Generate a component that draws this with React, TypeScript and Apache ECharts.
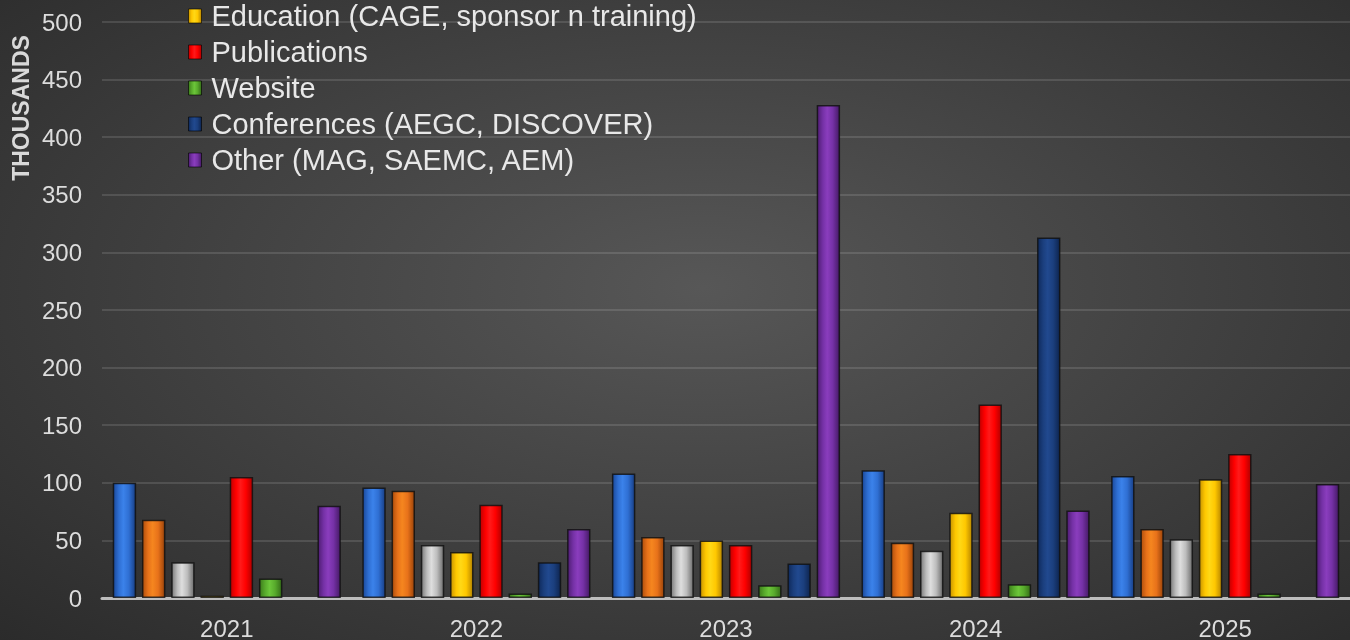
import React, { useEffect, useRef } from "react";
import * as echarts from "echarts";

const years = ["2021", "2022", "2023", "2024", "2025"];
const seriesNames = [
  "Series 1",
  "Series 2",
  "Series 3",
  "Education (CAGE, sponsor n training)",
  "Publications",
  "Website",
  "Conferences (AEGC, DISCOVER)",
  "Other (MAG, SAEMC, AEM)",
];
const legendNames = seriesNames.slice(3);
const blueVals = [100, 96, 108, 111, 106];
const orangeVals = [68, 93, 53, 48, 60];
const grayVals = [31, 46, 46, 41, 51];
const yellowVals = [2, 40, 50, 74, 103];
const redVals = [105, 81, 46, 168, 125];
const greenVals = [17, 4, 11, 12, 4];
const navyVals = [null, 31, 30, 313, null];
const purpleVals = [80, 60, 428, 76, 99];
const allVals = [blueVals, orangeVals, grayVals, yellowVals, redVals, greenVals, navyVals, purpleVals];

const palette = [
  ["#1b4a9c", "#3b82ea", "#2f6fd3", "#183f86"],
  ["#b04f0c", "#f5861f", "#e8721a", "#9c440a"],
  ["#7c7c7c", "#dedede", "#bdbdbd", "#6e6e6e"],
  ["#c99400", "#ffd816", "#ffc800", "#b88600"],
  ["#c00000", "#ff1a1a", "#ff0000", "#b00000"],
  ["#3d7d1c", "#6cc63a", "#58ab2c", "#356e18"],
  ["#0f2a5c", "#21498f", "#1b3f7e", "#0e2550"],
  ["#4f1d73", "#8a3dbd", "#7531a6", "#461a66"],
];

function grad(c: string[]) {
  return new echarts.graphic.LinearGradient(0, 0, 1, 0, [
    { offset: 0, color: c[0] },
    { offset: 0.25, color: c[2] },
    { offset: 0.45, color: c[1] },
    { offset: 0.7, color: c[2] },
    { offset: 1, color: c[3] },
  ]);
}

export default function App() {
  const ref = useRef<HTMLDivElement>(null);
  useEffect(() => {
    if (!ref.current) return;
    const chart = echarts.init(ref.current, null, { renderer: "svg" });
    chart.setOption({
      animation: false,
      backgroundColor: "transparent",
      grid: { left: 102, right: 0, top: 22, bottom: 41, containLabel: false },
      legend: {
        data: legendNames,
        orient: "vertical",
        left: 188,
        top: 0,
        padding: 0,
        itemWidth: 13,
        itemHeight: 14,
        itemGap: 4,
        icon: "rect",
        textStyle: {
          color: "#e8e8e8",
          fontSize: 29,
          lineHeight: 32,
          fontFamily: "Liberation Sans, Arial, sans-serif",
          padding: [0, 0, 0, 5],
        },
        itemStyle: { borderColor: "rgba(0,0,0,0.6)", borderWidth: 1 },
      },
      graphic: [
        {
          type: "text",
          x: 21,
          y: 108,
          rotation: Math.PI / 2,
          style: {
            text: "THOUSANDS",
            fill: "#d9d9d9",
            font: "bold 23px Liberation Sans, Arial, sans-serif",
            textAlign: "center",
            textVerticalAlign: "middle",
          },
        },
      ],
      xAxis: {
        type: "category",
        data: years,
        axisLine: { show: true, lineStyle: { color: "#bdbdbd", width: 3 } },
        axisTick: { show: false },
        axisLabel: {
          color: "#dcdcdc",
          fontSize: 24,
          margin: 18,
          fontFamily: "Liberation Sans, Arial, sans-serif",
        },
      },
      yAxis: {
        type: "value",
        min: 0,
        max: 500,
        interval: 50,
        axisLine: { show: false },
        axisTick: { show: false },
        splitLine: { lineStyle: { color: "rgba(255,255,255,0.12)", width: 2 } },
        axisLabel: {
          color: "#dcdcdc",
          fontSize: 24,
          margin: 20,
          fontFamily: "Liberation Sans, Arial, sans-serif",
        },
      },
      series: seriesNames.map((name, i) => ({
        name,
        type: "bar",
        data: allVals[i],
        barGap: "25%",
        barCategoryGap: "8.6%",
        itemStyle: {
          color: grad(palette[i]),
          borderColor: "rgba(15,15,15,0.8)",
          borderWidth: 1.5,
        },
      })),
    });
    return () => chart.dispose();
  }, []);
  return (
    <div
      style={{
        position: "fixed",
        left: 0,
        top: 0,
        width: 1350,
        height: 640,
        background:
          "radial-gradient(ellipse 75% 80% at 52% 45%, #575757 0%, #434343 45%, #2a2a2a 100%)",
      }}
    >
      <div ref={ref} style={{ width: 1350, height: 640 }} />
    </div>
  );
}
